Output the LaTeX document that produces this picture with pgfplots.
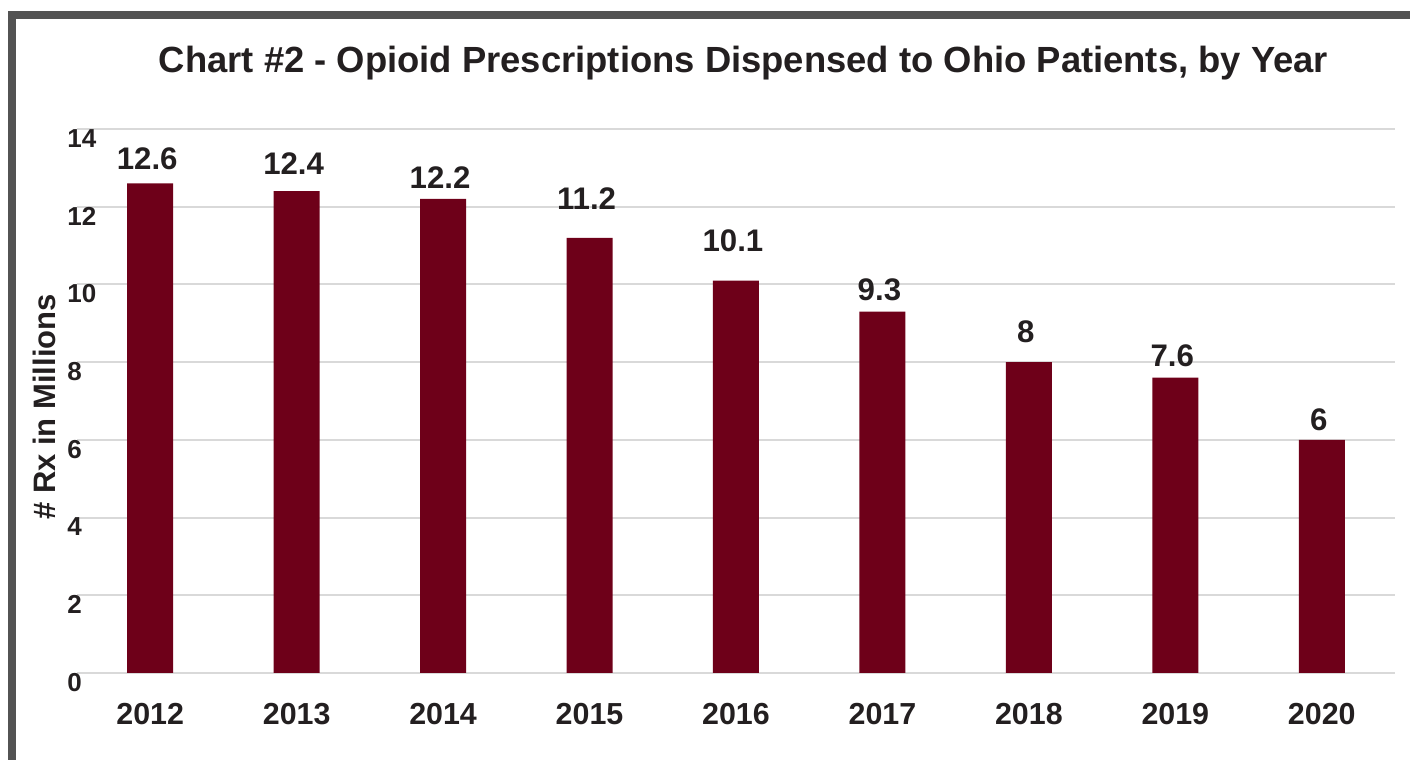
\documentclass[border=0pt]{standalone}
\usepackage{pgfplots}
\pgfplotsset{compat=1.18}
\usepackage{fontspec}
\setmainfont{Liberation Sans}

\definecolor{barred}{HTML}{6E0019}
\definecolor{txt}{HTML}{231F20}
\definecolor{gridgray}{HTML}{D9D9D9}
\definecolor{framegray}{HTML}{535353}

\begin{document}
\begin{tikzpicture}[x=1pt,y=1pt]
\useasboundingbox (0,0) rectangle (705,380);

% outer frame (only top and left edges fall inside the page)
\draw[framegray, line width=3.8pt] (6,-20) -- (6,372.6) -- (730,372.6);

\begin{axis}[
    at={(38.5pt,43.5pt)}, anchor=south west,
    scale only axis,
    width=659pt, height=272pt,
    xmin=-0.5, xmax=8.5,
    ymin=0, ymax=14,
    xtick={0,...,8},
    xticklabels={2012,2013,2014,2015,2016,2017,2018,2019,2020},
    ytick={0,2,...,14},
    axis line style={draw=none},
    major tick length=0pt,
    ymajorgrids,
    grid style={gridgray, line width=1pt},
    /pgf/number format/assume math mode=true,
    xticklabel style={font=\fontsize{15.2}{17}\selectfont\bfseries, text=txt, inner sep=0pt, anchor=north, yshift=-15pt},
    yticklabel style={font=\fontsize{13}{15}\selectfont\bfseries, text=txt, inner sep=0pt, anchor=north west, xshift=-5pt},
    clip=false,
]
% bars
\addplot[ybar, bar width=23pt, fill=barred, draw=none] coordinates {
    (0,12.6) (1,12.4) (2,12.2) (3,11.2) (4,10.1) (5,9.3) (6,8) (7,7.6) (8,6)
};
% value labels (baseline heights as placed in the original)
\addplot[draw=none, mark=none, nodes near coords, point meta=explicit symbolic,
    every node near coord/.style={anchor=base, inner sep=0pt, text=txt, xshift=-1.5pt,
        font=\fontsize{15.6}{17}\selectfont\bfseries}] coordinates {
    (0,12.96) [12.6]
    (1,12.83) [12.4]
    (2,12.46) [12.2]
    (3,11.92) [11.2]
    (4,10.84) [10.1]
    (5,9.58) [9.3]
    (6,8.50) [8]
    (7,7.90) [7.6]
    (8,6.25) [6]
};
\end{axis}

\node[anchor=base, text=txt, font=\fontsize{18.2}{20}\selectfont\bfseries, inner sep=0pt]
    at (371.75,343.6) {Chart \#2 - Opioid Prescriptions Dispensed to Ohio Patients, by Year};
\node[rotate=90, text=txt, font=\fontsize{15.5}{17}\selectfont\bfseries, inner sep=0pt]
    at (22,176.5) {\# Rx in Millions};
\end{tikzpicture}
\end{document}
